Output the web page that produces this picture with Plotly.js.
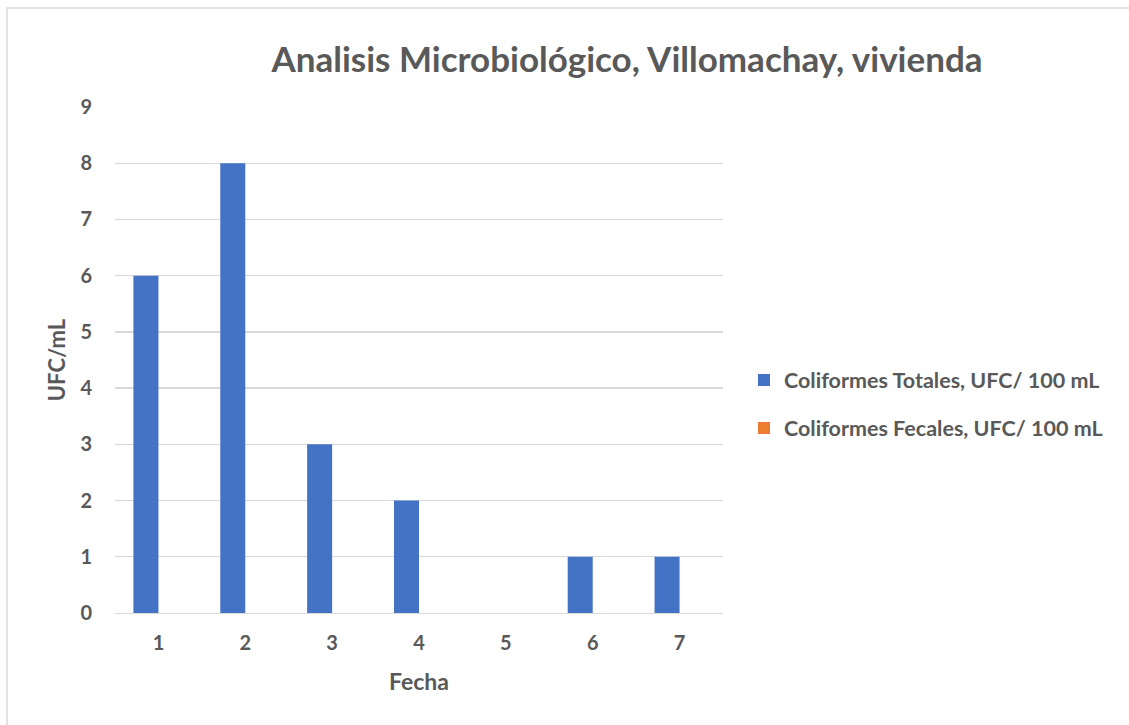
<!DOCTYPE html>
<html>
<head>
<meta charset="utf-8">
<script src="https://cdn.plot.ly/plotly-3.0.1.min.js"></script>
<style>
  html, body { margin: 0; padding: 0; background: #ffffff; }
  #chart { width: 1129px; height: 725px; }
</style>
</head>
<body>
<div id="chart"></div>
<script>
const categories = ["1", "2", "3", "4", "5", "6", "7"];
const totales = [6, 8, 3, 2, 0, 1, 1];
const fecales = [0, 0, 0, 0, 0, 0, 0];
const seriesNames = ["Coliformes Totales, UFC/ 100 mL", "Coliformes Fecales, UFC/ 100 mL"];
const yTicks = [0, 1, 2, 3, 4, 5, 6, 7, 8, 9];

const W = 1129, H = 725;
const mL = 115, mR = W - 723, mT = 107, mB = H - 613;
const pw = W - mL - mR, ph = H - mT - mB;
const px = v => (v - mL) / pw;
const py = v => (H - mB - v) / ph;

const FONT = "Lato, 'Open Sans', sans-serif";
const TXT = "#595959";

const data = [
  { type: "bar", x: categories, y: totales, name: seriesNames[0], legendgroup: "a",
    marker: { color: "#4472C4", line: { width: 0 } }, hoverinfo: "skip" },
  { type: "bar", x: categories, y: fecales, name: seriesNames[1], legendgroup: "b",
    marker: { color: "#ED7D31", line: { width: 0 } }, hoverinfo: "skip" }
];

const layout = {
  width: W, height: H,
  margin: { l: mL, r: mR, t: mT, b: mB, pad: 0 },
  paper_bgcolor: "#ffffff", plot_bgcolor: "#ffffff",
  font: { family: FONT, color: TXT, size: 20, weight: "bold" },
  title: {
    text: "Analisis Microbiológico, Villomachay, vivienda",
    font: { family: FONT, size: 35, color: TXT, weight: "bold" },
    xref: "container", yref: "container",
    x: 627 / W, y: 1 - 60 / H, xanchor: "center", yanchor: "middle"
  },
  barmode: "group", bargap: 0.424, bargroupgap: 0,
  xaxis: {
    type: "category",
    showgrid: false, showline: true, linecolor: "#d9d9d9", linewidth: 1.3,
    ticks: "", ticklen: 0, ticklabelstandoff: 12,
    tickfont: { family: FONT, size: 20, color: TXT, weight: "bold" },
    title: { text: "Fecha", font: { family: FONT, size: 23, color: TXT, weight: "bold" }, standoff: 20 },
    zeroline: false, fixedrange: true
  },
  yaxis: {
    range: [0, 9], tickvals: yTicks, ticktext: yTicks.map(String),
    showgrid: true, gridcolor: "#d9d9d9", gridwidth: 1.3,
    showline: false, zeroline: false, ticks: "",
    ticklabelstandoff: 22,
    tickfont: { family: FONT, size: 20, color: TXT, weight: "bold" },
    title: { text: "UFC/mL", font: { family: FONT, size: 22, color: TXT, weight: "bold" }, standoff: 8 },
    fixedrange: true
  },
  showlegend: true,
  legend: {
    xref: "container", yref: "container",
    x: 744 / W, y: 1 - 404 / H, xanchor: "left", yanchor: "middle",
    font: { family: FONT, size: 21.5, color: TXT, weight: "bold" },
    tracegroupgap: 17, bgcolor: "rgba(0,0,0,0)", itemclick: false, itemdoubleclick: false
  },
  shapes: [
    { type: "rect", xref: "paper", yref: "paper",
      x0: px(7), x1: px(1135), y0: py(733), y1: py(8),
      line: { color: "#d9d9d9", width: 1.5 }, fillcolor: "rgba(0,0,0,0)", layer: "below" }
  ]
};

Plotly.newPlot("chart", data, layout, { displayModeBar: false, staticPlot: true });
</script>
</body>
</html>
